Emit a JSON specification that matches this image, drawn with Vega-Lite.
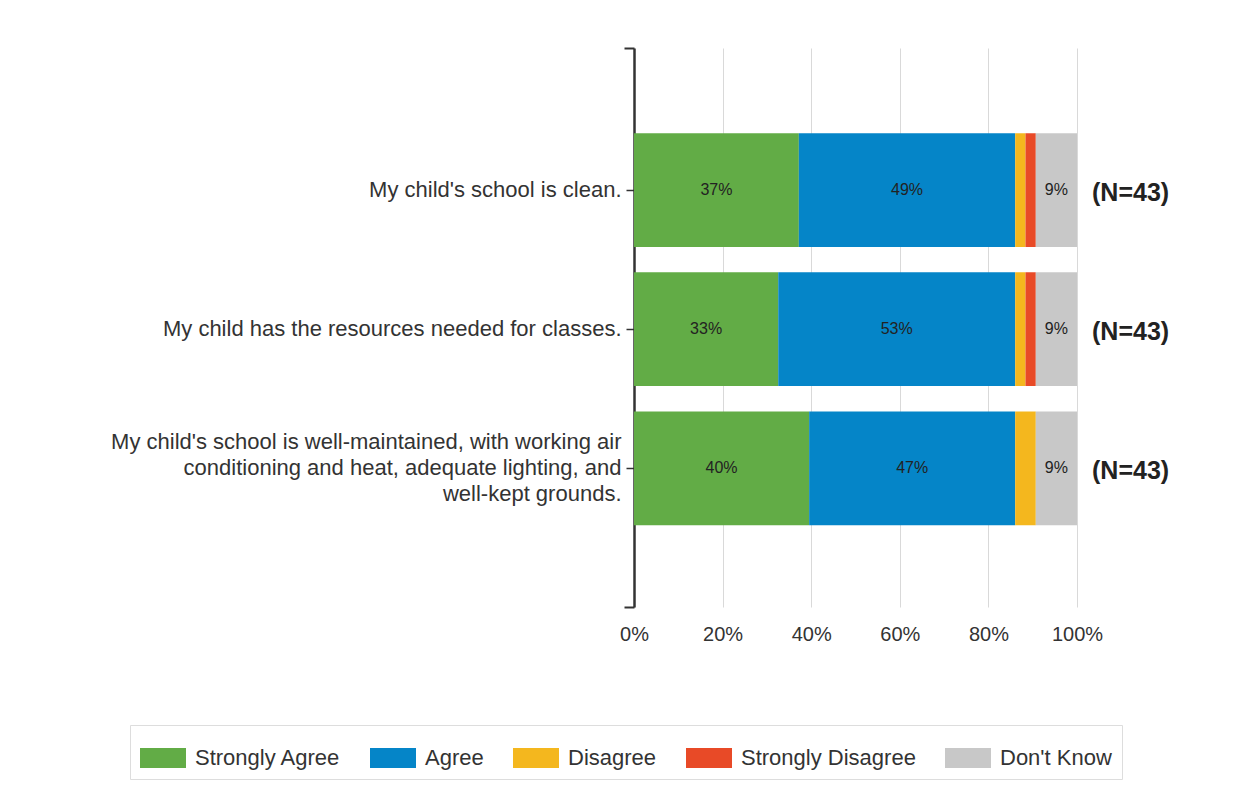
{
  "$schema": "https://vega.github.io/schema/vega-lite/v6.json",
  "width": 443,
  "height": 559,
  "autosize": {"type": "none"},
  "padding": {"left": 634, "top": 48, "right": 172, "bottom": 202},
  "background": "white",
  "config": {"view": {"stroke": null}, "font": "Liberation Sans"},
  "datasets": {
    "responses": [
      {"question": "My child's school is clean.", "response": "Strongly Agree", "count": 16},
      {"question": "My child's school is clean.", "response": "Agree", "count": 21},
      {"question": "My child's school is clean.", "response": "Disagree", "count": 1},
      {"question": "My child's school is clean.", "response": "Strongly Disagree", "count": 1},
      {"question": "My child's school is clean.", "response": "Don't Know", "count": 4},
      {"question": "My child has the resources needed for classes.", "response": "Strongly Agree", "count": 14},
      {"question": "My child has the resources needed for classes.", "response": "Agree", "count": 23},
      {"question": "My child has the resources needed for classes.", "response": "Disagree", "count": 1},
      {"question": "My child has the resources needed for classes.", "response": "Strongly Disagree", "count": 1},
      {"question": "My child has the resources needed for classes.", "response": "Don't Know", "count": 4},
      {"question": "My child's school is well-maintained, with working air conditioning and heat, adequate lighting, and well-kept grounds.", "response": "Strongly Agree", "count": 17},
      {"question": "My child's school is well-maintained, with working air conditioning and heat, adequate lighting, and well-kept grounds.", "response": "Agree", "count": 20},
      {"question": "My child's school is well-maintained, with working air conditioning and heat, adequate lighting, and well-kept grounds.", "response": "Disagree", "count": 2},
      {"question": "My child's school is well-maintained, with working air conditioning and heat, adequate lighting, and well-kept grounds.", "response": "Strongly Disagree", "count": 0},
      {"question": "My child's school is well-maintained, with working air conditioning and heat, adequate lighting, and well-kept grounds.", "response": "Don't Know", "count": 4}
    ]
  },
  "layer": [
    {
      "data": {"name": "responses"},
      "transform": [
        {"calculate": "indexof(['Strongly Agree','Agree','Disagree','Strongly Disagree',\"Don't Know\"], datum.response)", "as": "rank"},
        {"joinaggregate": [{"op": "sum", "field": "count", "as": "total"}], "groupby": ["question"]},
        {"stack": "count", "groupby": ["question"], "sort": [{"field": "rank", "order": "ascending"}], "as": ["x0", "x1"], "offset": "normalize"},
        {"calculate": "(datum.x0 + datum.x1) / 2", "as": "mid"},
        {"calculate": "datum.count / datum.total", "as": "pct"},
        {"calculate": "'(N=' + datum.total + ')'", "as": "nlabel"}
      ],
      "encoding": {
        "y": {
          "field": "question",
          "type": "nominal",
          "sort": ["My child's school is clean.", "My child has the resources needed for classes.", "My child's school is well-maintained, with working air conditioning and heat, adequate lighting, and well-kept grounds."],
          "scale": {"paddingInner": 0.182, "paddingOuter": 0.6, "align": 0.51},
          "axis": {
            "orient": "left",
            "title": null,
            "domain": false,
            "ticks": true,
            "tickSize": 8,
            "tickWidth": 1.5,
            "tickColor": "#333333",
            "labelPadding": 5,
            "labelFontSize": 22,
            "labelColor": "#333333",
            "labelLimit": 700,
            "labelLineHeight": 26,
            "labelOffset": {"condition": {"test": "indexof(datum.label, 'well-maintained') >= 0", "value": -26}, "value": 0},
            "labelExpr": "indexof(datum.label, 'well-maintained') >= 0 ? [\"My child's school is well-maintained, with working air\", 'conditioning and heat, adequate lighting, and', 'well-kept grounds.'] : datum.label"
          }
        }
      },
      "layer": [
        {
          "mark": {"type": "bar"},
          "encoding": {
            "x": {
              "field": "x0",
              "type": "quantitative",
              "scale": {"domain": [0, 1], "nice": false},
              "axis": {
                "title": null,
                "format": "%",
                "values": [0, 0.2, 0.4, 0.6, 0.8, 1],
                "domain": false,
                "ticks": false,
                "tickSize": 0,
                "labelFlush": false,
                "labelPadding": 17,
                "labelFontSize": 20,
                "labelColor": "#333333",
                "grid": true,
                "gridColor": "#d9d9d9",
                "gridWidth": 1
              }
            },
            "x2": {"field": "x1"},
            "color": {
              "field": "response",
              "type": "nominal",
              "scale": {
                "domain": ["Strongly Agree", "Agree", "Disagree", "Strongly Disagree", "Don't Know"],
                "range": ["#62AC46", "#0585C8", "#F4B71E", "#E84A27", "#C8C8C8"]
              },
              "legend": {
                "title": null,
                "orient": "none",
                "legendX": -504,
                "legendY": 677,
                "direction": "horizontal",
                "padding": 10,
                "strokeColor": "#dddddd",
                "fillColor": "white",
                "columnPadding": 29,
                "labelOffset": 9,
                "labelFontSize": 22,
                "labelColor": "#333333",
                "labelLimit": 400,
                "symbolType": "M-1,-0.43H1V0.43H-1Z",
                "symbolSize": 2116,
                "symbolStrokeWidth": 0,
                "symbolOpacity": 1
              }
            }
          }
        },
        {
          "transform": [{"filter": "datum.pct >= 0.05"}],
          "mark": {"type": "text", "fontSize": 16, "color": "#222222", "align": "center", "baseline": "middle"},
          "encoding": {
            "x": {"field": "mid", "type": "quantitative"},
            "text": {"field": "pct", "type": "quantitative", "format": ".0%"}
          }
        },
        {
          "transform": [{"filter": "datum.rank == 0"}],
          "mark": {"type": "text", "fontSize": 25, "fontWeight": "bold", "color": "#222222", "align": "left", "baseline": "middle", "dx": 15, "dy": 3},
          "encoding": {
            "x": {"datum": 1, "type": "quantitative"},
            "text": {"field": "nlabel", "type": "nominal"}
          }
        }
      ]
    },
    {
      "data": {"values": [{"v": 0}, {"v": 1}]},
      "mark": {"type": "point", "opacity": 0},
      "encoding": {
        "y": {
          "field": "v",
          "type": "quantitative",
          "scale": {"domain": [0, 1], "nice": false, "zero": false},
          "axis": {
            "orient": "left",
            "title": null,
            "values": [0, 1],
            "labels": false,
            "grid": false,
            "domain": true,
            "domainColor": "#333333",
            "domainWidth": 2.5,
            "ticks": true,
            "tickSize": 10,
            "tickWidth": 2,
            "tickColor": "#333333"
          }
        }
      }
    }
  ],
  "resolve": {"scale": {"y": "independent"}}
}
